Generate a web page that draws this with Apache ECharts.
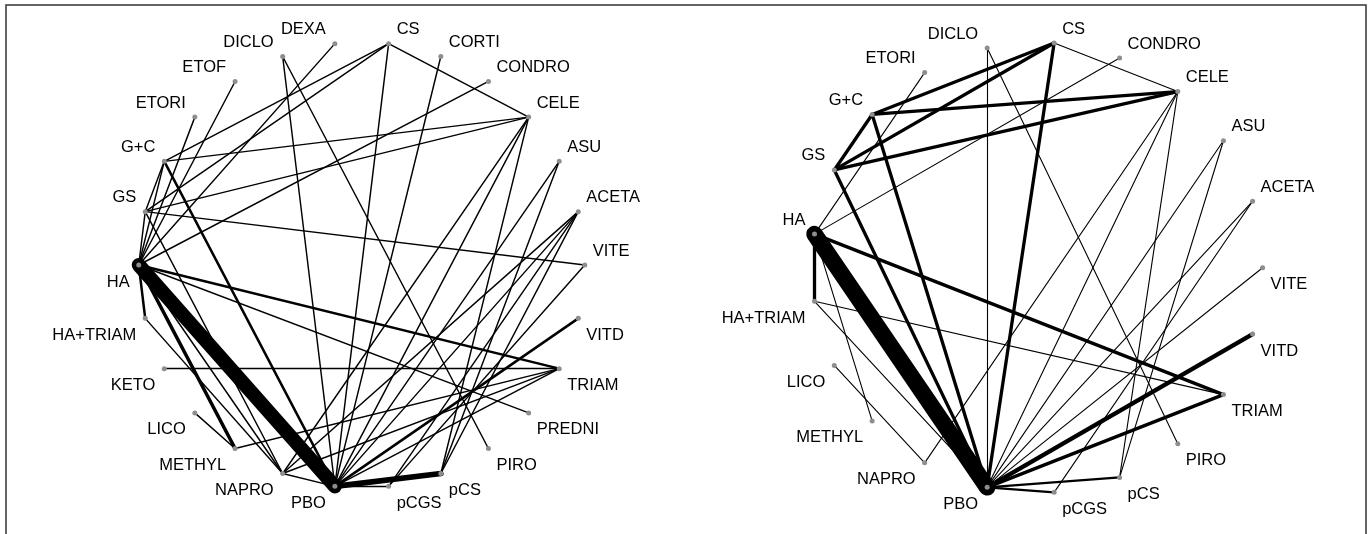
<!DOCTYPE html>
<html>
<head>
<meta charset="utf-8">
<script src="https://cdn.jsdelivr.net/npm/echarts@6/dist/echarts.min.js"></script>
<style>
  html, body { margin: 0; padding: 0; background: #fff; }
  #chart { width: 1372px; height: 534px; }
</style>
</head>
<body>
<div id="chart"></div>
<script>
// treatments, in the order they sit round each circle (counter-clockwise)
const leftNodes = ["ACETA", "ASU", "CELE", "CONDRO", "CORTI", "CS", "DEXA", "DICLO", "ETOF", "ETORI",
  "G+C", "GS", "HA", "HA+TRIAM", "KETO", "LICO", "METHYL", "NAPRO", "PBO", "pCGS", "pCS", "PIRO",
  "PREDNI", "TRIAM", "VITD", "VITE"];
const rightNodes = ["ACETA", "ASU", "CELE", "CONDRO", "CS", "DICLO", "ETORI", "G+C", "GS", "HA",
  "HA+TRIAM", "LICO", "METHYL", "NAPRO", "PBO", "pCGS", "pCS", "PIRO", "TRIAM", "VITD", "VITE"];

// comparisons: [a, b, number of studies]
const leftEdges = [
  ["HA", "PBO", 13], ["PBO", "pCS", 5], ["PBO", "pCGS", 1], ["HA", "TRIAM", 2], ["HA", "METHYL", 3],
  ["HA", "HA+TRIAM", 2], ["HA", "PREDNI", 1], ["HA", "NAPRO", 1], ["HA", "DEXA", 1], ["HA", "ETORI", 1],
  ["HA", "ETOF", 1], ["HA", "CONDRO", 1], ["HA", "GS", 1], ["HA", "G+C", 1], ["G+C", "GS", 1],
  ["CS", "G+C", 1], ["CS", "GS", 1], ["CS", "CELE", 1], ["CS", "PBO", 1], ["CELE", "G+C", 1],
  ["CELE", "GS", 1], ["CELE", "PBO", 1], ["CELE", "NAPRO", 1], ["CELE", "pCS", 1], ["CORTI", "PBO", 1],
  ["DICLO", "PBO", 1], ["DICLO", "PIRO", 1], ["G+C", "PBO", 2], ["GS", "VITE", 1], ["GS", "NAPRO", 1],
  ["KETO", "TRIAM", 1], ["TRIAM", "PBO", 1], ["TRIAM", "METHYL", 1], ["VITD", "PBO", 2],
  ["ACETA", "PBO", 1], ["ACETA", "pCGS", 1], ["ACETA", "pCS", 1], ["ACETA", "NAPRO", 1],
  ["ASU", "pCS", 1], ["ASU", "PBO", 1], ["VITE", "pCGS", 1], ["LICO", "METHYL", 1],
  ["HA+TRIAM", "NAPRO", 1], ["NAPRO", "PBO", 1], ["NAPRO", "TRIAM", 1]
];
const rightEdges = [
  ["HA", "PBO", 15], ["HA", "HA+TRIAM", 3], ["HA", "TRIAM", 3], ["HA", "ETORI", 1], ["HA", "CONDRO", 1],
  ["HA", "METHYL", 1], ["G+C", "GS", 3], ["G+C", "CS", 3], ["G+C", "CELE", 3], ["GS", "CS", 3],
  ["GS", "CELE", 3], ["G+C", "PBO", 3], ["GS", "PBO", 3], ["CS", "CELE", 1], ["CS", "PBO", 3],
  ["DICLO", "PBO", 1], ["DICLO", "PIRO", 1], ["CELE", "PBO", 1], ["CELE", "pCS", 1], ["CELE", "NAPRO", 1],
  ["ASU", "PBO", 1], ["ASU", "pCS", 1], ["ACETA", "PBO", 1], ["ACETA", "pCGS", 1], ["VITE", "PBO", 1],
  ["VITD", "PBO", 4], ["TRIAM", "PBO", 3], ["PBO", "pCS", 2], ["PBO", "pCGS", 2],
  ["HA+TRIAM", "TRIAM", 1], ["HA+TRIAM", "PBO", 1], ["LICO", "NAPRO", 1]
];

const chart = echarts.init(document.getElementById("chart"));

// label goes left/right of the dot, above on the upper half and below on the lower half
function nodeItems(names, flip) {
  const n = names.length;
  return names.map((name, i) => {
    const deg = ((i + 1) * 360 / n) % 360;
    const right = Math.cos(deg * Math.PI / 180) > 0;
    let above = deg < 180;
    if (flip.indexOf(name) >= 0) above = !above;
    return {
      name: name,
      value: [1, i],
      label: {
        position: right ? "right" : "left",
        distance: right ? 5.5 : 6.5,
        offset: [0, above ? -14 : 17],
      },
    };
  });
}

// line width grows with the number of studies
function linkItems(edges, k, c) {
  return edges.map((e) => ({
    source: e[0],
    target: e[1],
    lineStyle: { width: e[2] * k + c },
  }));
}

function netSeries(idx, names, edges, flip, k, c) {
  return {
    type: "graph",
    coordinateSystem: "polar",
    polarIndex: idx,
    symbol: "circle",
    symbolSize: 5,
    itemStyle: { color: "#8e8e8e" },
    lineStyle: { color: "#000", opacity: 1, curveness: 0, cap: "round" },
    label: {
      show: true,
      color: "#000",
      fontSize: 16.5,
      fontFamily: "Liberation Sans, Arial, sans-serif",
    },
    emphasis: { disabled: true },
    data: nodeItems(names, flip),
    links: linkItems(edges, k, c),
  };
}

const hidden = { axisLine: { show: false }, axisTick: { show: false }, axisLabel: { show: false }, splitLine: { show: false } };

var option = {
  animation: false,
  backgroundColor: "#fff",
  polar: [
    { center: [361.75, 265], radius: 223 },
    { center: [1037.3, 267.7], radius: 225.3 },
  ],
  angleAxis: [
    Object.assign({ polarIndex: 0, type: "value", min: -1, max: leftNodes.length - 1, startAngle: 0, clockwise: false }, hidden),
    Object.assign({ polarIndex: 1, type: "value", min: -1, max: rightNodes.length - 1, startAngle: 0, clockwise: false }, hidden),
  ],
  radiusAxis: [
    Object.assign({ polarIndex: 0, type: "value", min: 0, max: 1 }, hidden),
    Object.assign({ polarIndex: 1, type: "value", min: 0, max: 1 }, hidden),
  ],
  graphic: [
    {
      type: "rect",
      shape: { x: 6, y: 5, width: 1360, height: 600 },
      style: { fill: "none", stroke: "#333", lineWidth: 1.5 },
      silent: true,
    },
  ],
  series: [
    netSeries(0, leftNodes, leftEdges, [], 1.05, 0.4),
    netSeries(1, rightNodes, rightEdges, ["VITE"], 1.1, 0),
  ],
};

chart.setOption(option);
</script>
</body>
</html>
